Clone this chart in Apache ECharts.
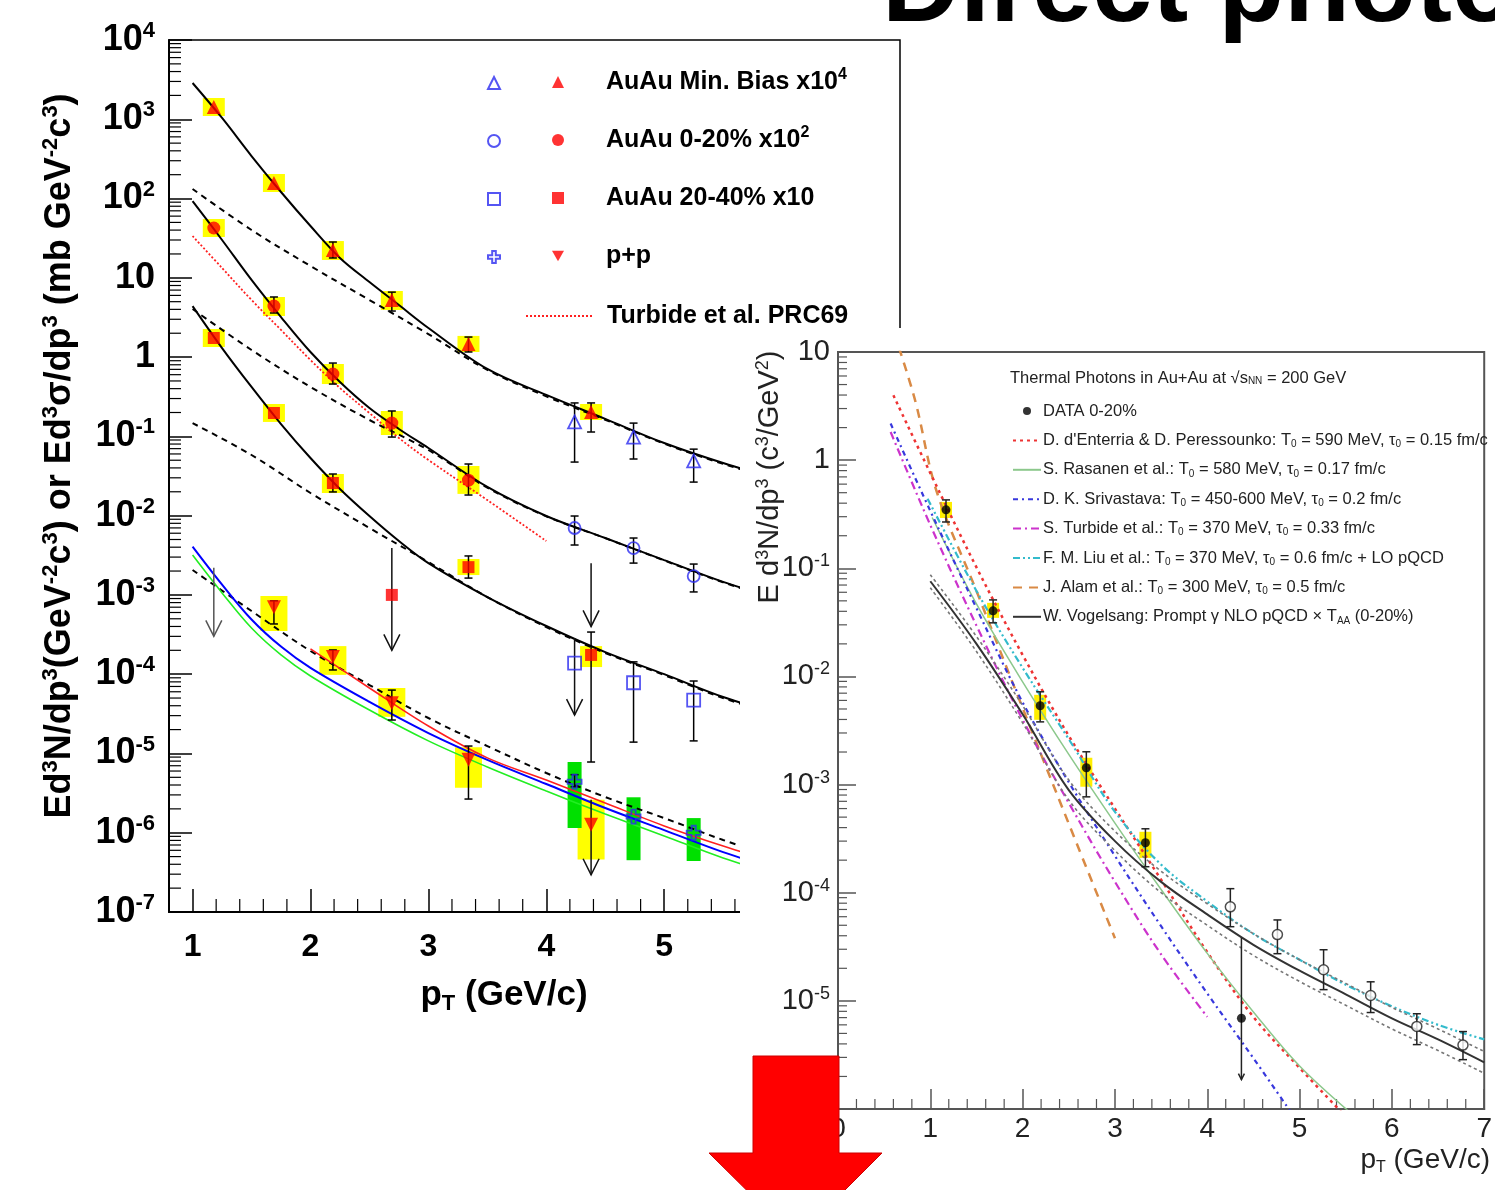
<!DOCTYPE html>
<html><head><meta charset="utf-8">
<script src="https://cdn.jsdelivr.net/npm/echarts@6/dist/echarts.min.js"></script>
<style>
html,body{margin:0;padding:0;background:#fff;}
#wrap{position:relative;width:1495px;height:1190px;overflow:hidden;background:#fff}
#L,#O{position:absolute;left:0;top:0;width:1495px;height:1190px}
#R{position:absolute;left:740px;top:328px;width:755px;height:862px;background:#fff}
#O{pointer-events:none}
</style></head>
<body><div id="wrap"><div id="L"></div><div id="R"></div><div id="O"></div></div>
<script>
// ================= LEFT PANEL DATA =================
const xTickValuesL = [1, 2, 3, 4, 5, 6, 7];
const xAuAu = [1.18, 1.69, 2.19, 2.69, 3.34, 4.38];
const x020 = [1.18, 1.69, 2.19, 2.69, 3.34];
const xHigh = [4.24, 4.74, 5.25];
const mbRed = [1430, 157, 22.4, 5.25, 1.46, 0.203];
const mbBlue = [0.152, 0.098, 0.049];
const c020Red = [42.5, 4.4, 0.61, 0.147, 0.028];
const c020Blue = [0.00698, 0.0039, 0.00173];
const c2040Red = [1.74, 0.197, 0.0258, 0.001, 0.00224, 1.75e-4];
const c2040Blue = [1.38e-4, 7.8e-5, 4.7e-5];
const ppX = [1.69, 2.19, 2.69, 3.34, 4.38];
const ppRed = [7.0e-4, 1.65e-4, 4.3e-5, 8.3e-6, 1.26e-6];
const ppBlue = [4.4e-6, 1.6e-6, 1.0e-6];

// statistical error bars [x, low, high]
const errMBRed = [[2.19,17.8,28.3],[2.69,3.81,6.6],[3.34,1.16,1.79],[4.38,0.1135,0.264]];
const errMBBlue = [[4.24,0.0474,0.264],[4.74,0.0518,0.147],[5.25,0.0265,0.069]];
const err020Red = [[1.69,3.6,5.73],[2.19,0.457,0.841],[2.69,0.098,0.209],[3.34,0.0182,0.0448]];
const err020Blue = [[4.24,0.00426,0.00989],[4.74,0.00252,0.00522],[5.25,0.00109,0.00245]];
const err2040Red = [[2.19,0.0199,0.0335],[3.34,0.00163,0.0031],[4.38,7.8e-6,3.4e-4]];
const err2040Blue = [[4.74,1.39e-5,1.43e-4],[5.25,1.44e-5,8.2e-5]];
const errPPRed = [[1.69,4.3e-4,8.4e-4],[2.19,1.13e-4,2.02e-4],[2.69,2.64e-5,6.3e-5],[3.34,2.66e-6,1.24e-5]];
const errPPBlue = [[4.24,3.8e-6,5.4e-6]];

// systematic boxes [x, low, high]
const sysMB = [[1.18,1099,1854],[1.69,121,204],[2.19,16.8,29.1],[2.69,3.93,6.82],[3.34,1.16,1.85],[4.38,0.161,0.256]];
const sys020 = [[1.18,32.7,55.2],[1.69,3.3,5.73],[2.19,0.457,0.818],[2.69,0.104,0.209],[3.34,0.0188,0.0423]];
const sys2040 = [[1.18,1.34,2.26],[1.69,0.152,0.256],[2.19,0.0193,0.0335],[3.34,0.00178,0.00284],[4.38,1.23e-4,2.26e-4]];
const sysPP = [[1.69,3.5e-4,9.7e-4],[2.19,9.8e-5,2.26e-4],[2.69,2.9e-5,6.7e-5],[3.34,3.7e-6,1.2e-5],[4.38,4.6e-7,2.6e-6]];
const sysPPBlue = [[4.24,1.15e-6,7.8e-6],[4.74,4.5e-7,2.8e-6],[5.25,4.4e-7,1.53e-6]];

// upper limits [x, from, to]
const limitsDark = [[2.69,3.9e-3,2.0e-4],[4.38,2.5e-3,4.0e-4],[4.24,2.86e-4,3.05e-5],[4.38,2.6e-6,2.95e-7]];
const limitsGray = [[1.18,2.2e-3,3.0e-4]];

// model curves
const curveXL = [1.0,1.25,1.5,1.75,2.0,2.25,2.5,2.75,3.0,3.5,4.0,4.5,5.0,5.5,6.0];
const fitMB = [2870,1038,344,121,45,17.8,8.85,4.54,2.33,0.708,0.333,0.166,0.0824,0.0461,0.028];
const fit020 = [93,30,9.4,3.2,1.16,0.485,0.228,0.124,0.0713,0.023,0.00989,0.00522,0.00275,0.00146,0.00086];
const fit2040 = [4.4,1.30,0.42,0.143,0.0533,0.0217,0.00989,0.00479,0.00252,9.4e-4,4.05e-4,1.9e-4,1.0e-4,5.15e-5,3.05e-5];
const dashX = [1.0,1.5,2.0,2.5,3.0,3.5,4.0,4.5,5.0,5.5,6.0];
const pqcdMB = [132,40.1,14.1,5.25,1.95,0.69,0.32,0.162,0.081,0.045,0.0275];
const pqcd020 = [4.04,1.23,0.42,0.161,0.0673,0.0225,0.0098,0.0052,0.00272,0.00144,0.00085];
const pqcd2040 = [0.147,0.0582,0.0193,0.00698,0.0026,9.4e-4,3.93e-4,1.85e-4,9.75e-5,5.0e-5,2.97e-5];
const pqcdPP = [2.06e-3,6.26e-4,1.96e-4,7.3e-5,2.8e-5,1.24e-5,5.67e-6,2.82e-6,1.53e-6,8.1e-7,4.6e-7];
const ppCurveX = [1.0,1.25,1.5,1.75,2.0,2.5,3.0,3.5,4.0,4.5,5.0,5.5,6.0];
const ppBlueCurve = [4.07e-3,1.35e-3,4.9e-4,2.23e-4,1.2e-4,4.47e-5,1.81e-5,8.3e-6,4.12e-6,2.05e-6,1.08e-6,5.7e-7,3.3e-7];
const ppGreenCurve = [3.18e-3,1.06e-3,3.82e-4,1.75e-4,9.5e-5,3.53e-5,1.44e-5,6.75e-6,3.36e-6,1.72e-6,9.1e-7,4.8e-7,2.8e-7];
const ppRedX = [2.0,2.5,3.0,3.5,4.0,4.5,5.0,5.5,6.0];
const ppRedCurve = [2.09e-4,6.7e-5,2.22e-5,8.8e-6,4.62e-6,2.37e-6,1.22e-6,6.8e-7,4.0e-7];
const turbideX = [1.0,1.25,1.5,1.75,2.0,2.25,2.5,2.75,3.0,3.5,4.0];
const turbideY = [33.7,13.3,5.25,2.2,0.918,0.407,0.197,0.0953,0.0504,0.0157,0.00479];

const legendTextL = ['AuAu Min. Bias x10{s|4}', 'AuAu 0-20% x10{s|2}', 'AuAu 20-40% x10', 'p+p', 'Turbide et al. PRC69'];

// ================= RIGHT PANEL DATA =================
const dataX = [1.17, 1.68, 2.19, 2.69, 3.33, 4.37];
const dataY = [0.347, 0.0404, 0.00535, 0.00143, 2.9e-4, 6.9e-6];
const openX = [4.25, 4.76, 5.26, 5.77, 6.27, 6.77];
const openY = [7.4e-5, 4.1e-5, 1.94e-5, 1.12e-5, 5.8e-6, 3.9e-6];
const errDataR = [[1.17,0.268,0.429],[1.68,0.0313,0.051],[2.19,0.0038,0.00721],[2.69,7.7e-4,0.00201],[3.33,1.74e-4,3.9e-4]];
const errOpenR = [[4.25,4.85e-5,1.09e-4],[4.76,2.73e-5,5.6e-5],[5.26,1.27e-5,2.97e-5],[5.77,7.8e-6,1.5e-5],[6.27,3.94e-6,7.6e-6],[6.77,2.86e-6,5.2e-6]];
const limitR = [[4.37,3.84e-5,1.87e-6]];
const sysDataR = [[1.17,0.292,0.411],[1.68,0.0348,0.0479],[2.19,0.00397,0.00676],[2.69,9.55e-4,0.00177],[3.33,2.1e-4,3.66e-4]];

const alamX = [0.66,0.84,1.07,1.5,2.0,2.6,3.0];
const alamY = [11,3.45,0.508,0.0617,0.0051,2.66e-4,3.8e-5];
const dEnterriaX = [0.6,1.0,1.5,2.0,2.5,3.0,3.5,4.0,4.5,5.0,5.5];
const dEnterriaY = [3.98,0.759,0.102,0.0158,0.00282,6.0e-4,1.32e-4,2.82e-5,7.1e-6,2.4e-6,8.5e-7];
const srivastavaX = [0.57,1.0,1.5,2.0,2.5,3.0,3.5,4.0,4.5,4.9];
const srivastavaY = [2.18,0.339,0.0427,0.00575,0.00105,2.19e-4,4.9e-5,1.17e-5,2.95e-6,9.5e-7];
const turbideRX = [0.57,1.0,1.5,2.0,2.5,3.0,3.5,4.0];
const turbideRY = [1.82,0.251,0.0295,0.00398,6.76e-4,1.26e-4,2.69e-5,7.1e-6];
const liuX = [0.97,1.5,2.0,2.5,3.0,3.5,4.0,4.5,5.0,5.5,6.0,6.5,7.0];
const liuY = [0.44,0.0617,0.012,0.00263,5.6e-4,1.82e-4,8.3e-5,4.17e-5,2.4e-5,1.41e-5,8.9e-6,6.0e-6,4.4e-6];
const rasanenX = [1.02,1.5,2.0,2.5,3.0,3.5,4.0,4.5,5.0,5.6];
const rasanenY = [0.295,0.0468,0.0089,0.0019,4.4e-4,1.07e-4,2.75e-5,7.9e-6,2.5e-6,8.5e-7];
const vogelX = [1.0,1.5,2.0,2.5,3.0,3.5,4.0,4.5,5.0,5.5,6.0,6.5,7.0];
const vogelY = [0.0759,0.02,0.00447,8.9e-4,3.0e-4,1.26e-4,6.3e-5,3.3e-5,1.9e-5,1.15e-5,6.9e-6,4.4e-6,2.7e-6];
const vogelUp = [0.0871,0.0234,0.00537,0.0011,3.7e-4,1.58e-4,7.9e-5,4.17e-5,2.4e-5,1.45e-5,8.7e-6,5.5e-6,3.4e-6];
const vogelLo = [0.0661,0.017,0.00372,7.2e-4,2.45e-4,1.0e-4,5.0e-5,2.63e-5,1.51e-5,9.1e-6,5.5e-6,3.47e-6,2.14e-6];

const legendNamesR = ['DATA 0-20%','dEnterria','Rasanen','Srivastava','TurbideR','Liu','Alam','Vogelsang'];
const legendTextR = {
  'DATA 0-20%': 'DATA 0-20%',
  'dEnterria': "D. d'Enterria & D. Peressounko: T{sub|0} = 590 MeV, τ{sub|0} = 0.15 fm/c",
  'Rasanen': 'S. Rasanen et al.: T{sub|0} = 580 MeV, τ{sub|0} = 0.17 fm/c',
  'Srivastava': 'D. K. Srivastava: T{sub|0} = 450-600 MeV, τ{sub|0} = 0.2 fm/c',
  'TurbideR': 'S. Turbide et al.: T{sub|0} = 370 MeV, τ{sub|0} = 0.33 fm/c',
  'Liu': 'F. M. Liu et al.: T{sub|0} = 370 MeV, τ{sub|0} = 0.6 fm/c + LO pQCD',
  'Alam': 'J. Alam et al.: T{sub|0} = 300 MeV, τ{sub|0} = 0.5 fm/c',
  'Vogelsang': 'W. Vogelsang: Prompt γ NLO pQCD × T{sub|AA} (0-20%)'
};

// ================= HELPERS =================
const FONT = "'Liberation Sans', Arial, Helvetica, sans-serif";
const zip = (xs, ys) => xs.map((x, i) => [x, ys[i]]);

function boxSeries(data, color, halfW) {
  return { type: 'custom', data, z: 1, silent: true, encode: { x: 0, y: [1, 2] },
    renderItem(params, api) {
      const x = api.value(0), a = api.coord([x, api.value(2)]), b = api.coord([x, api.value(1)]);
      return { type: 'rect', shape: { x: a[0] - halfW, y: a[1], width: 2 * halfW, height: b[1] - a[1] }, style: { fill: color } };
    } };
}
function errSeries(data, color, cap, lw) {
  return { type: 'custom', data, z: 3, silent: true, encode: { x: 0, y: [1, 2] },
    renderItem(params, api) {
      const x = api.value(0), a = api.coord([x, api.value(2)]), b = api.coord([x, api.value(1)]);
      const st = { stroke: color, lineWidth: lw };
      return { type: 'group', children: [
        { type: 'line', shape: { x1: a[0], y1: a[1], x2: b[0], y2: b[1] }, style: st },
        { type: 'line', shape: { x1: a[0] - cap, y1: a[1], x2: a[0] + cap, y2: a[1] }, style: st },
        { type: 'line', shape: { x1: b[0] - cap, y1: b[1], x2: b[0] + cap, y2: b[1] }, style: st }
      ] };
    } };
}
function arrowSeries(data, color, hw, hh, lw) {
  return { type: 'custom', data, z: 3, silent: true, encode: { x: 0, y: [1, 2] },
    renderItem(params, api) {
      const x = api.value(0), a = api.coord([x, api.value(1)]), b = api.coord([x, api.value(2)]);
      const st = { stroke: color, lineWidth: lw, fill: null };
      return { type: 'group', children: [
        { type: 'line', shape: { x1: a[0], y1: a[1], x2: b[0], y2: b[1] }, style: st },
        { type: 'polyline', shape: { points: [[b[0] - hw, b[1] - hh], [b[0], b[1]], [b[0] + hw, b[1] - hh]] }, style: st }
      ] };
    } };
}
function minorTickSeries(data, horizontal, len, color, lw) {
  return { type: 'custom', data, z: 2, silent: true,
    renderItem(params, api) {
      const p = api.coord([api.value(0), api.value(1)]);
      const shape = horizontal ? { x1: p[0], y1: p[1], x2: p[0] + len, y2: p[1] } : { x1: p[0], y1: p[1], x2: p[0], y2: p[1] - len };
      return { type: 'line', shape, style: { stroke: color, lineWidth: lw } };
    } };
}
function logLabel(v) {
  const e = Math.round(Math.log10(v));
  if (e === 0) return '{b|1}';
  if (e === 1) return '{b|10}';
  return '{b|10}{s|' + e + '}';
}
function lineS(name, xs, ys, color, width, type, z) {
  return { type: 'line', name, data: zip(xs, ys), showSymbol: false, symbol: 'none', smooth: 0.35, z: z || 2,
    lineStyle: { color, width, type: type || 'solid' }, itemStyle: { color }, silent: true };
}

// minor tick positions (axis construction)
const mantissas = [2, 3, 4, 5, 6, 7, 8, 9];
const yMinorL = [];
for (let e = -7; e <= 3; e++) mantissas.forEach(m => yMinorL.push([0.8, m * Math.pow(10, e)]));
const xMinorL = [];
for (let i = 1; i <= 6; i++) [0.2, 0.4, 0.6, 0.8].forEach(f => xMinorL.push([+(i + f).toFixed(1), 1e-7]));
const yMinorR = [];
for (let e = -6; e <= 0; e++) mantissas.forEach(m => yMinorR.push([0, m * Math.pow(10, e)]));
const xMinorR = [];
for (let i = 0; i <= 6; i++) [0.2, 0.4, 0.6, 0.8].forEach(f => xMinorR.push([+(i + f).toFixed(1), 1e-6]));

// ================= LEFT CHART =================
const chartL = echarts.init(document.getElementById('L'), null, { renderer: 'canvas' });
const crossPath = 'path://M3.5,0H6.5V3.5H10V6.5H6.5V10H3.5V6.5H0V3.5H3.5Z';
const downTriPath = 'path://M0,0L10,0L5,8.66Z';
const openStyle = c => ({ color: 'rgba(255,255,255,0)', borderColor: c, borderWidth: 1.8 });
const BLUE = '#2a2af0';
const rowsL = [82, 140, 198, 256, 316];
const legendL = [];
const filledNames = ['mbFilled', 'c020Filled', 'c2040Filled', 'ppFilled'];
const openNames = ['mbOpen', 'c020Open', 'c2040Open', 'ppOpen'];
const legendTextStyleL = { fontSize: 25, fontWeight: 'bold', fontFamily: FONT, color: '#000', lineHeight: 30,
  rich: { s: { fontSize: 16, fontWeight: 'bold', fontFamily: FONT, color: '#000', verticalAlign: 'top', lineHeight: 14 } } };
openNames.forEach((n, i) => legendL.push({ data: [n], left: 487, top: rowsL[i] - 6, orient: 'vertical', padding: 0, itemWidth: 12, itemHeight: 12,
  selectedMode: false, formatter: () => '', textStyle: { fontSize: 1, lineHeight: 1 } }));
filledNames.forEach((n, i) => legendL.push({ data: [n === 'ppFilled' ? { name: n, icon: downTriPath } : n],
  left: 552, top: rowsL[i] - 15, orient: 'vertical', padding: 0, itemWidth: 12, itemHeight: 12,
  selectedMode: false, formatter: () => legendTextL[i],
  textStyle: Object.assign({}, legendTextStyleL, { padding: [0, 0, 0, 37] }) }));
legendL.push({ data: [{ name: 'Turbide', itemStyle: { opacity: 0 } }], left: 525, top: rowsL[4] - 15, orient: 'vertical', padding: 0, itemWidth: 66, itemHeight: 12,
  selectedMode: false, formatter: () => legendTextL[4],
  textStyle: Object.assign({}, legendTextStyleL, { padding: [0, 0, 0, 10] }) });

chartL.setOption({
  animation: false,
  backgroundColor: '#fff',
  grid: { left: 169, top: 40, width: 731, height: 872, show: true, borderColor: '#000', borderWidth: 1.5 },
  xAxis: { type: 'value', min: 0.8, max: 7,
    axisLine: { show: true, onZero: false, lineStyle: { color: '#000', width: 2 } },
    axisTick: { show: true, inside: true, length: 23, customValues: xTickValuesL, lineStyle: { color: '#000', width: 1.5 } },
    axisLabel: { customValues: xTickValuesL, margin: 19, fontSize: 32, fontWeight: 'bold', fontFamily: FONT, color: '#000' },
    splitLine: { show: false } },
  yAxis: { type: 'log', logBase: 10, min: 1e-7, max: 1e4, interval: 1,
    axisLine: { show: true, lineStyle: { color: '#000', width: 2 } },
    axisTick: { show: true, inside: true, length: 23, lineStyle: { color: '#000', width: 1.5 } },
    axisLabel: { formatter: logLabel, margin: 14,
      rich: { b: { fontSize: 36, fontWeight: 'bold', fontFamily: FONT, color: '#000', lineHeight: 40 },
              s: { fontSize: 22, fontWeight: 'bold', fontFamily: FONT, color: '#000', verticalAlign: 'top', lineHeight: 20 } } },
    splitLine: { show: false } },
  legend: legendL,
  graphic: [
    { type: 'text', x: 60, y: 456, rotation: Math.PI / 2, z: 10,
      style: { text: '{b|Ed}{s|3}{b|N/dp}{s|3}{b|(GeV}{s|-2}{b|c}{s|3}{b|) or Ed}{s|3}{b|σ/dp}{s|3}{b| (mb GeV}{s|-2}{b|c}{s|3}{b|)}',
        align: 'center', verticalAlign: 'middle',
        rich: { b: { fontSize: 36, fontWeight: 'bold', fontFamily: FONT, fill: '#000', lineHeight: 40 },
                s: { fontSize: 22, fontWeight: 'bold', fontFamily: FONT, fill: '#000', verticalAlign: 'top', lineHeight: 20 } } } },
    { type: 'text', x: 504, y: 995, z: 10,
      style: { text: '{b|p}{t|T}{b| (GeV/c)}', align: 'center', verticalAlign: 'middle',
        rich: { b: { fontSize: 35, fontWeight: 'bold', fontFamily: FONT, fill: '#000', lineHeight: 40 },
                t: { fontSize: 22, fontWeight: 'bold', fontFamily: FONT, fill: '#000', verticalAlign: 'bottom', lineHeight: 14 } } } },
    { type: 'text', x: 882, y: -9, z: 10,
      style: { text: 'Direct photons', font: 'bold 108px ' + FONT, fill: '#000', align: 'left', verticalAlign: 'middle' } }
  ],
  series: [
    boxSeries(sysMB, '#ffff00', 11), boxSeries(sys020, '#ffff00', 11), boxSeries(sys2040, '#ffff00', 11),
    boxSeries(sysPP, '#ffff00', 13.5), boxSeries(sysPPBlue, '#00e000', 7),
    lineS('fitMB', curveXL, fitMB, '#000', 2), lineS('fit020', curveXL, fit020, '#000', 2), lineS('fit2040', curveXL, fit2040, '#000', 2),
    lineS('pqcdMB', dashX, pqcdMB, '#000', 2, [6, 5]), lineS('pqcd020', dashX, pqcd020, '#000', 2, [6, 5]),
    lineS('pqcd2040', dashX, pqcd2040, '#000', 2, [6, 5]), lineS('pqcdPP', dashX, pqcdPP, '#000', 2, [6, 5]),
    lineS('ppGreen', ppCurveX, ppGreenCurve, '#22ee22', 1.6), lineS('ppBlue', ppCurveX, ppBlueCurve, '#0000ff', 2),
    lineS('ppRedCurve', ppRedX, ppRedCurve, '#ff2020', 1.6),
    lineS('Turbide', turbideX, turbideY, '#ff2020', 1.8, [2, 2]),
    errSeries(errMBRed, '#000', 4, 1.5), errSeries(errMBBlue, '#000', 4, 1.5), errSeries(err020Red, '#000', 4, 1.5),
    errSeries(err020Blue, '#000', 4, 1.5), errSeries(err2040Red, '#000', 4, 1.5), errSeries(err2040Blue, '#000', 4, 1.5),
    errSeries(errPPRed, '#000', 4, 1.5), errSeries(errPPBlue, '#000', 4, 1.5),
    arrowSeries(limitsDark, '#111', 8, 16, 1.5), arrowSeries(limitsGray, '#555', 8, 16, 1.5),
    { type: 'scatter', name: 'mbFilled', data: zip(xAuAu, mbRed), symbol: 'triangle', symbolSize: 14, z: 5, itemStyle: { color: '#ff0000' } },
    { type: 'scatter', name: 'c020Filled', data: zip(x020, c020Red), symbol: 'circle', symbolSize: 13, z: 5, itemStyle: { color: '#ff0000' } },
    { type: 'scatter', name: 'c2040Filled', data: zip(xAuAu, c2040Red), symbol: 'rect', symbolSize: 12, z: 5, itemStyle: { color: '#ff0000' } },
    { type: 'scatter', name: 'ppFilled', data: zip(ppX, ppRed), symbol: 'triangle', symbolRotate: 180, symbolSize: 14, z: 5, itemStyle: { color: '#ff0000' } },
    { type: 'scatter', name: 'mbOpen', data: zip(xHigh, mbBlue), symbol: 'triangle', symbolSize: 13, z: 5, itemStyle: openStyle(BLUE) },
    { type: 'scatter', name: 'c020Open', data: zip(xHigh, c020Blue), symbol: 'circle', symbolSize: 12, z: 5, itemStyle: openStyle(BLUE) },
    { type: 'scatter', name: 'c2040Open', data: zip(xHigh, c2040Blue), symbol: 'rect', symbolSize: 13, z: 5, itemStyle: openStyle(BLUE) },
    { type: 'scatter', name: 'ppOpen', data: zip(xHigh, ppBlue), symbol: crossPath, symbolSize: 14, z: 5, itemStyle: openStyle(BLUE) },
    minorTickSeries(yMinorL, true, 12, '#000', 1.2),
    minorTickSeries(xMinorL, false, 13, '#000', 1.2)
  ]
});

// ================= RIGHT CHART =================
const chartR = echarts.init(document.getElementById('R'), null, { renderer: 'canvas' });
const GRAY = '#333';
const FR = 16.5;
chartR.setOption({
  animation: false,
  backgroundColor: '#fff',
  grid: { left: 98, top: 24, right: 3, bottom: 81, show: true, borderColor: '#555', borderWidth: 2 },
  xAxis: { type: 'value', min: 0, max: 7, interval: 1,
    axisLine: { show: true, onZero: false, lineStyle: { color: '#555', width: 2 } },
    axisTick: { show: true, inside: true, length: 20, lineStyle: { color: '#555', width: 1.5 } },
    axisLabel: { margin: 6, fontSize: 28, fontFamily: FONT, color: '#222' },
    splitLine: { show: false } },
  yAxis: { type: 'log', logBase: 10, min: 1e-6, max: 10, interval: 1,
    axisLine: { show: true, lineStyle: { color: '#555', width: 2 } },
    axisTick: { show: true, inside: true, length: 18, lineStyle: { color: '#555', width: 1.5 } },
    axisLabel: { formatter: logLabel, margin: 8,
      rich: { b: { fontSize: 29, fontFamily: FONT, color: '#222', lineHeight: 32 },
              s: { fontSize: 18, fontFamily: FONT, color: '#222', verticalAlign: 'top', lineHeight: 16 } } },
    splitLine: { show: false } },
  legend: { data: legendNamesR.map((n, i) => i === 0 ? { name: n } : { name: n, itemStyle: { opacity: 0 } }),
    left: 272, top: 74, orient: 'vertical', padding: 0, itemWidth: 28, itemHeight: 8, itemGap: 11.4,
    selectedMode: false, formatter: n => legendTextR[n],
    textStyle: { fontSize: FR, fontFamily: FONT, color: '#222', lineHeight: 18, padding: [0, 0, 0, -3],
      rich: { sub: { fontSize: 10, fontFamily: FONT, color: '#222', verticalAlign: 'bottom', lineHeight: 10 } } } },
  graphic: [
    { type: 'text', x: 270, y: 50, style: { text: 'Thermal Photons in Au+Au at √{o|s}{sub|NN} = 200 GeV', align: 'left', verticalAlign: 'middle',
        fontSize: FR, fontFamily: FONT, fill: '#222',
        rich: { o: { fontSize: FR, fontFamily: FONT, fill: '#222' }, sub: { fontSize: 10, fontFamily: FONT, fill: '#222', verticalAlign: 'bottom', lineHeight: 10 } } } },
    { type: 'text', x: 30, y: 149, rotation: Math.PI / 2,
      style: { text: '{b|E d}{s|3}{b|N/dp}{s|3}{b| (c}{s|3}{b|/GeV}{s|2}{b|)}', align: 'center', verticalAlign: 'middle',
        rich: { b: { fontSize: 29, fontFamily: FONT, fill: '#222', lineHeight: 32 },
                s: { fontSize: 18, fontFamily: FONT, fill: '#222', verticalAlign: 'top', lineHeight: 16 } } } },
    { type: 'text', x: 750, y: 832,
      style: { text: '{b|p}{t|T}{b| (GeV/c)}', align: 'right', verticalAlign: 'middle',
        rich: { b: { fontSize: 28, fontFamily: FONT, fill: '#222', lineHeight: 32 },
                t: { fontSize: 16, fontFamily: FONT, fill: '#222', verticalAlign: 'bottom', lineHeight: 10 } } } }
  ],
  series: [
    boxSeries(sysDataR, '#ffee00', 6),
    lineS('Alam', alamX, alamY, '#d98a45', 2.5, [9, 7]),
    lineS('dEnterria', dEnterriaX, dEnterriaY, '#ee3333', 2.5, [3, 4]),
    lineS('Rasanen', rasanenX, rasanenY, '#8cc88c', 1.5),
    lineS('Srivastava', srivastavaX, srivastavaY, '#3838dd', 2.2, [5, 4, 2, 4]),
    lineS('TurbideR', turbideRX, turbideRY, '#cc33cc', 2.2, [8, 4, 2, 4]),
    lineS('Liu', liuX, liuY, '#33bbcc', 2.2, [7, 3, 2, 3, 2, 3]),
    lineS('vogelUp', vogelX, vogelUp, '#777', 1.6, [3, 3]),
    lineS('vogelLo', vogelX, vogelLo, '#777', 1.6, [3, 3]),
    lineS('Vogelsang', vogelX, vogelY, GRAY, 2),
    errSeries(errDataR, '#222', 4, 1.5),
    errSeries(errOpenR, '#222', 4, 1.5),
    arrowSeries(limitR, '#222', 3, 6, 1.5),
    { type: 'scatter', name: 'DATA 0-20%', data: zip(dataX, dataY), symbol: 'circle', symbolSize: 9, z: 5, itemStyle: { color: '#000' } },
    { type: 'scatter', name: 'openData', data: zip(openX, openY), symbol: 'circle', symbolSize: 10, z: 5, itemStyle: { color: '#fff', borderColor: '#222', borderWidth: 1.5 } },
    minorTickSeries(yMinorR, true, 9, '#555', 1.2),
    minorTickSeries(xMinorR, false, 10, '#555', 1.2)
  ]
});

// ================= OVERLAY (big red arrow) =================
const chartO = echarts.init(document.getElementById('O'), null, { renderer: 'canvas' });
chartO.setOption({
  animation: false,
  backgroundColor: 'transparent',
  graphic: [
    { type: 'polygon', shape: { points: [[753, 1056], [839, 1056], [839, 1153], [882, 1153], [796, 1239], [709, 1153], [753, 1153]] },
      style: { fill: '#ff0000', stroke: '#cc0000', lineWidth: 1 } }
  ]
});
</script>
</body></html>
